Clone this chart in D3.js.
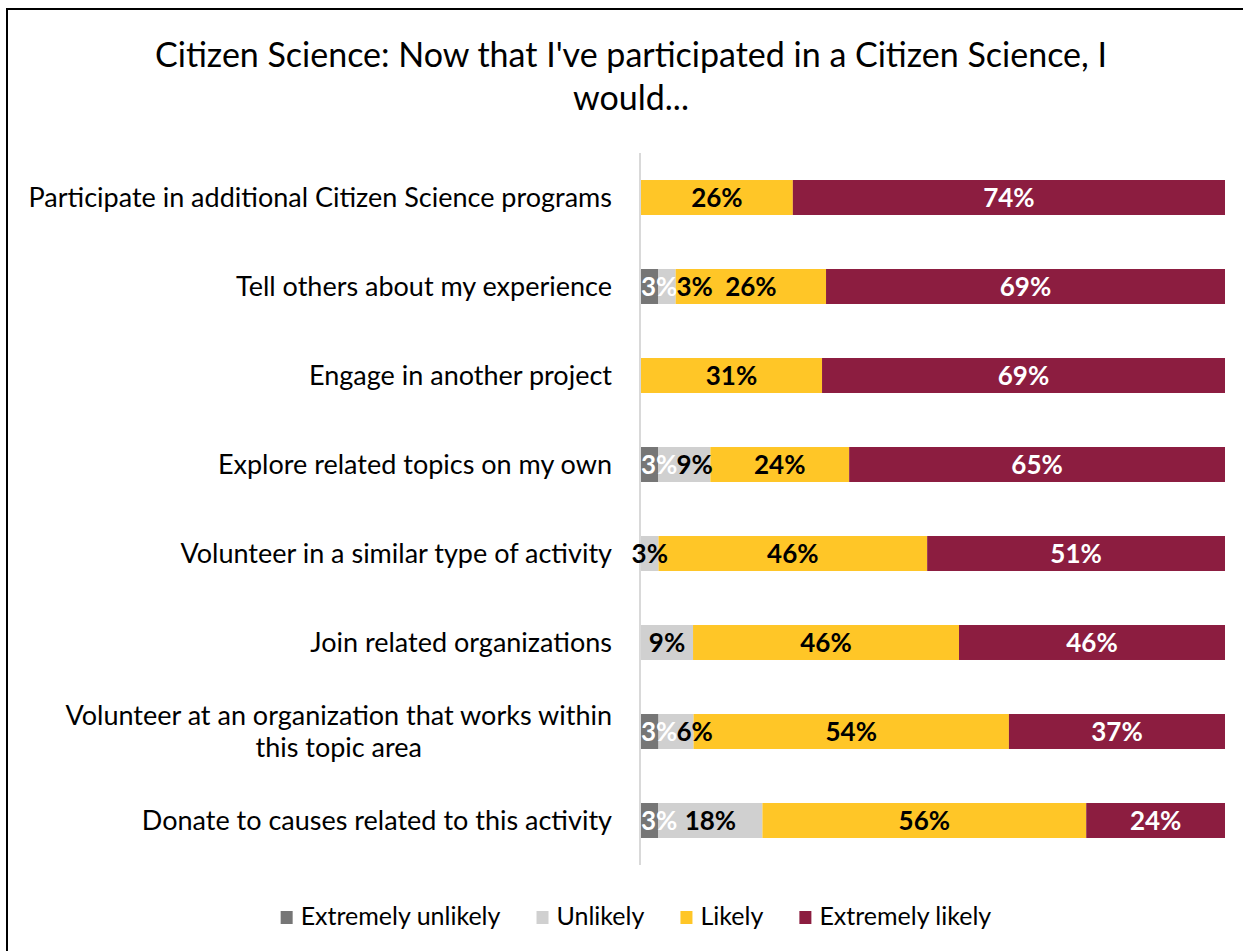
<!DOCTYPE html>
<html>
<head>
<meta charset="utf-8">
<script src="https://cdn.jsdelivr.net/npm/d3@7"></script>
<style>
  html, body { margin: 0; padding: 0; background: #fff; }
  svg { display: block; font-family: Lato, "Open Sans", sans-serif; }
</style>
</head>
<body>
<svg id="chart" width="1243" height="951"></svg>
<script>
// Survey items (one bar each, top to bottom)
const categories = [
  "Participate in additional Citizen Science programs",
  "Tell others about my experience",
  "Engage in another project",
  "Explore related topics on my own",
  "Volunteer in a similar type of activity",
  "Join related organizations",
  "Volunteer at an organization that works within this topic area",
  "Donate to causes related to this activity"
];
// Share of responses (%) per answer
const extremelyUnlikely = [0, 3, 0, 3, 0, 0, 3, 3];
const unlikely          = [0, 3, 0, 9, 3, 9, 6, 18];
const likely            = [26, 26, 31, 24, 46, 46, 54, 56];
const extremelyLikely   = [74, 69, 69, 65, 51, 46, 37, 24];

const seriesNames = ["Extremely unlikely", "Unlikely", "Likely", "Extremely likely"];
const seriesColors = ["#767676", "#d0d0d0", "#ffc627", "#8c1d40"];
const labelColors = ["#ffffff", "#000000", "#000000", "#ffffff"];
const titleLines = ["Citizen Science: Now that I've participated in a Citizen Science, I", "would..."];

const keys = ["eu", "u", "l", "el"];
const rows = categories.map((c, i) => ({
  category: c,
  eu: extremelyUnlikely[i], u: unlikely[i], l: likely[i], el: extremelyLikely[i]
}));

const svg = d3.select("#chart");

// outer frame
svg.append("rect")
  .attr("x", 7).attr("y", 9).attr("width", 1300).attr("height", 1000)
  .attr("fill", "none").attr("stroke", "#000").attr("stroke-width", 2);

// title
svg.append("text")
  .attr("text-anchor", "middle")
  .attr("font-size", 34)
  .attr("fill", "#000")
  .selectAll("tspan").data(titleLines).join("tspan")
  .attr("x", 631)
  .attr("y", (d, i) => 67 + i * 43)
  .text(d => d);

const x = d3.scaleLinear().domain([0, 1]).range([641, 1225]);
const y = d3.scaleBand().domain(categories).range([153, 865])
  .paddingInner(0.607).paddingOuter(0.3035);

const stacked = d3.stack().keys(keys).offset(d3.stackOffsetExpand)(rows);

// category axis line
svg.append("line")
  .attr("x1", 640).attr("x2", 640)
  .attr("y1", y.range()[0]).attr("y2", y.range()[1])
  .attr("stroke", "#d9d9d9").attr("stroke-width", 2);

// bars
const layers = svg.append("g").selectAll("g").data(stacked).join("g")
  .attr("fill", (d, i) => seriesColors[i]);

layers.selectAll("rect").data(d => d).join("rect")
  .attr("x", d => x(d[0]))
  .attr("y", d => y(d.data.category))
  .attr("width", d => x(d[1]) - x(d[0]))
  .attr("height", y.bandwidth());

// value labels: centred on their segment; first-series labels kept inside the
// plot area, then later labels nudged right so they don't sit on top of each other
const labelG = svg.append("g")
  .attr("font-weight", "bold")
  .attr("font-size", 26)
  .attr("text-anchor", "middle");

rows.forEach((row, ri) => {
  let prevRight = -Infinity;
  stacked.forEach((layer, li) => {
    const d = layer[ri];
    const v = row[keys[li]];
    if (v <= 0) return;
    const t = labelG.append("text")
      .attr("fill", labelColors[li])
      .attr("y", y(row.category) + y.bandwidth() / 2)
      .attr("dy", "0.36em")
      .text(v + "%");
    const w = t.node().getComputedTextLength();
    let cx = (x(d[0]) + x(d[1])) / 2;
    if (li === 0) cx = Math.max(cx, x.range()[0] + w / 2);
    if (cx - w / 2 < prevRight - 1) cx = prevRight - 1 + w / 2;
    t.attr("x", cx);
    prevRight = cx + w / 2;
  });
});

// category labels (long ones wrap onto two centred lines)
const catG = svg.append("g").attr("font-size", 27).attr("fill", "#000");
const labelRight = 612;
const maxLabelWidth = 589;
categories.forEach(c => {
  const cy = y(c) + y.bandwidth() / 2;
  const t = catG.append("text").attr("text-anchor", "end").attr("x", labelRight)
    .attr("y", cy).attr("dy", "0.35em").text(c);
  if (t.node().getComputedTextLength() > maxLabelWidth) {
    const words = c.split(" ");
    let line1 = [], line2 = [];
    words.forEach(w => {
      const trial = line1.concat(w).join(" ");
      t.text(trial);
      if (line2.length === 0 && t.node().getComputedTextLength() <= maxLabelWidth - 30) line1.push(w);
      else line2.push(w);
    });
    t.text(line1.join(" "));
    const w1 = t.node().getComputedTextLength();
    t.remove();
    const lines = [line1.join(" "), line2.join(" ")];
    const tt = catG.append("text").attr("text-anchor", "middle");
    tt.selectAll("tspan").data(lines).join("tspan")
      .attr("x", labelRight - w1 / 2)
      .attr("y", (d, i) => cy + (i - 0.5) * 32)
      .attr("dy", "0.35em")
      .text(d => d);
  }
});

// legend
const legend = svg.append("g").attr("font-size", 25);
const items = legend.selectAll("g").data(seriesNames).join("g");
items.append("rect").attr("width", 12).attr("height", 13).attr("y", -14)
  .attr("fill", (d, i) => seriesColors[i]);
items.append("text").attr("x", 20).attr("y", 0).text(d => d);
let offset = 0;
const gap = 36;
const positions = [];
items.each(function() {
  positions.push(offset);
  offset += this.getBBox().width + gap;
});
const totalWidth = offset - gap;
const legendLeft = 636 - totalWidth / 2;
items.attr("transform", (d, i) => `translate(${legendLeft + positions[i]},${925})`);
</script>
</body>
</html>
